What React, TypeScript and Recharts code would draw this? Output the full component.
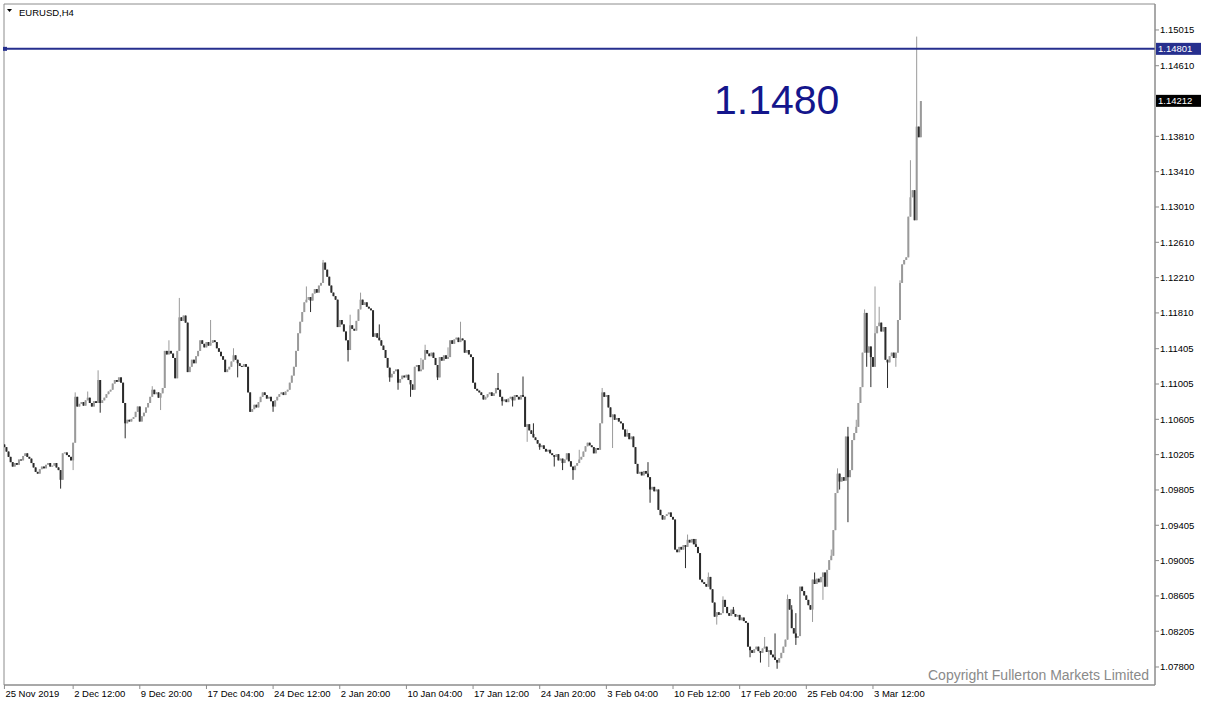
import React from 'react';
import { ComposedChart, Bar, XAxis, YAxis, ReferenceLine, ReferenceArea } from 'recharts';

// EURUSD H4 closes, one array per trading week (25 Nov 2019 .. 9 Mar 2020)
const wk0 = [1.1029, 1.1024, 1.1018, 1.1012, 1.1007, 1.1011, 1.1009, 1.1015, 1.1014, 1.1019, 1.1022, 1.1018, 1.1016, 1.1011, 1.1006, 1.1001, 1.0999, 1.1004, 1.1007, 1.1005, 1.1009, 1.1011, 1.1007, 1.1008, 1.1011, 1.1006, 1.1003, 1.0992, 1.1022, 1.1023];
const wk1 = [1.1020, 1.1018, 1.1014, 1.1034, 1.1086, 1.1075, 1.1078, 1.1080, 1.1076, 1.1082, 1.1085, 1.1079, 1.1075, 1.1081, 1.1079, 1.1105, 1.1079, 1.1082, 1.1085, 1.1089, 1.1092, 1.1094, 1.1101, 1.1105, 1.1103, 1.1108, 1.1102, 1.1079, 1.1056, 1.1060];
const wk2 = [1.1058, 1.1061, 1.1063, 1.1069, 1.1075, 1.1058, 1.1064, 1.1068, 1.1074, 1.1079, 1.1086, 1.1094, 1.1089, 1.1091, 1.1085, 1.1090, 1.1096, 1.1138, 1.1134, 1.1138, 1.1135, 1.1130, 1.1107, 1.1138, 1.1176, 1.1172, 1.1178, 1.1170, 1.1114, 1.1120];
const wk3 = [1.1128, 1.1124, 1.1132, 1.1138, 1.1150, 1.1146, 1.1142, 1.1148, 1.1144, 1.1147, 1.1150, 1.1148, 1.1141, 1.1137, 1.1132, 1.1128, 1.1114, 1.1117, 1.1120, 1.1126, 1.1133, 1.1128, 1.1124, 1.1121, 1.1120, 1.1123, 1.1120, 1.1091, 1.1069, 1.1072];
const wk4 = [1.1077, 1.1074, 1.1080, 1.1086, 1.1091, 1.1088, 1.1084, 1.1086, 1.1081, 1.1075, 1.1082, 1.1086, 1.1089, 1.1091, 1.1088, 1.1092, 1.1094, 1.1102, 1.1110, 1.1120, 1.1138, 1.1158, 1.1171, 1.1182];
const wk5 = [1.1193, 1.1196, 1.1199, 1.1195, 1.1203, 1.1208, 1.1204, 1.1212, 1.1215, 1.1238, 1.1230, 1.1222, 1.1212, 1.1204, 1.1200, 1.1196, 1.1165, 1.1173, 1.1168, 1.1160, 1.1150, 1.1139, 1.1167, 1.1163];
const wk6 = [1.1161, 1.1172, 1.1185, 1.1196, 1.1190, 1.1193, 1.1188, 1.1186, 1.1184, 1.1154, 1.1158, 1.1153, 1.1150, 1.1144, 1.1139, 1.1130, 1.1119, 1.1108, 1.1112, 1.1115, 1.1117, 1.1102, 1.1106, 1.1110, 1.1108, 1.1111, 1.1105, 1.1100, 1.1094, 1.1120];
const wk7 = [1.1122, 1.1115, 1.1117, 1.1128, 1.1139, 1.1135, 1.1132, 1.1136, 1.1130, 1.1122, 1.1108, 1.1131, 1.1127, 1.1133, 1.1129, 1.1131, 1.1150, 1.1146, 1.1151, 1.1153, 1.1148, 1.1152, 1.1150, 1.1136, 1.1139, 1.1134, 1.1131, 1.1102, 1.1095, 1.1093];
const wk8 = [1.1091, 1.1088, 1.1083, 1.1086, 1.1089, 1.1091, 1.1087, 1.1090, 1.1096, 1.1094, 1.1086, 1.1081, 1.1083, 1.1080, 1.1084, 1.1086, 1.1082, 1.1088, 1.1086, 1.1083, 1.1088, 1.1086, 1.1052, 1.1055, 1.1048, 1.1044, 1.1040, 1.1037, 1.1033, 1.1029];
const wk9 = [1.1031, 1.1027, 1.1024, 1.1026, 1.1022, 1.1020, 1.1018, 1.1021, 1.1014, 1.1016, 1.1011, 1.1015, 1.1022, 1.1013, 1.1007, 1.1003, 1.1008, 1.1011, 1.1015, 1.1018, 1.1024, 1.1030, 1.1034, 1.1031, 1.1029, 1.1022, 1.1028, 1.1026, 1.1056, 1.1091];
const wk10 = [1.1086, 1.1088, 1.1074, 1.1063, 1.1066, 1.1060, 1.1062, 1.1058, 1.1056, 1.1049, 1.1041, 1.1045, 1.1038, 1.1041, 1.1029, 1.1010, 1.0999, 1.1001, 1.0997, 1.1002, 1.0999, 1.0995, 1.0981, 1.0984, 1.0979, 1.0981, 1.0958, 1.0952, 1.0947, 1.0951];
const wk11 = [1.0953, 1.0955, 1.0950, 1.0947, 1.0913, 1.0910, 1.0916, 1.0913, 1.0918, 1.0916, 1.0924, 1.0921, 1.0925, 1.0919, 1.0916, 1.0909, 1.0879, 1.0876, 1.0874, 1.0871, 1.0882, 1.0868, 1.0853, 1.0837, 1.0842, 1.0839, 1.0841, 1.0856, 1.0848, 1.0841];
const wk12 = [1.0838, 1.0845, 1.0840, 1.0837, 1.0839, 1.0833, 1.0836, 1.0832, 1.0830, 1.0803, 1.0799, 1.0796, 1.0800, 1.0803, 1.0798, 1.0796, 1.0801, 1.0803, 1.0797, 1.0799, 1.0794, 1.0791, 1.0788, 1.0785, 1.0790, 1.0796, 1.0803, 1.0811, 1.0857, 1.0845];
const wk13 = [1.0824, 1.0818, 1.0813, 1.0815, 1.0871, 1.0866, 1.0861, 1.0856, 1.0850, 1.0845, 1.0879, 1.0874, 1.0880, 1.0876, 1.0882, 1.0887, 1.0871, 1.0890, 1.0901, 1.0906, 1.0935, 1.0977, 1.0999, 1.0990, 1.0995, 1.0991, 1.1041, 1.0995, 1.1003, 1.1037];
const wk14 = [1.1045, 1.1052, 1.1079, 1.1097, 1.1136, 1.1181, 1.1136, 1.1143, 1.1131, 1.1120, 1.1158, 1.1166, 1.1170, 1.1160, 1.1165, 1.1128, 1.1125, 1.1132, 1.1136, 1.1130, 1.1136, 1.1173, 1.1215, 1.1236, 1.1241, 1.1244, 1.1290, 1.1312, 1.1320, 1.1286];
const wk15 = [1.1392, 1.1380, 1.1421];

const firstOpen = 1.1032;

// visible wick extremes [bar index, price]
const wickHighs: [number, number][] = [
  [34, 1.1091], [40, 1.1092], [45, 1.1116], [71, 1.1098], [79, 1.1150], [84, 1.1198], [99, 1.1173],
  [110, 1.1141], [145, 1.1211], [153, 1.1241], [166, 1.1179], [171, 1.1204], [180, 1.1168], [200, 1.1130],
  [202, 1.1145], [213, 1.1142], [219, 1.1171], [237, 1.1113], [249, 1.1109], [254, 1.1056], [276, 1.1026],
  [287, 1.1096], [299, 1.1049], [309, 1.1012], [328, 1.0930], [332, 1.0925], [338, 1.0887], [345, 1.0860],
  [350, 1.0848], [365, 1.0814], [370, 1.0818], [376, 1.0862], [378, 1.0850], [380, 1.0841], [389, 1.0887],
  [397, 1.0913], [400, 1.1005], [405, 1.1052], [409, 1.1060], [413, 1.1185], [418, 1.1211], [420, 1.1188],
  [430, 1.1218], [435, 1.1354], [438, 1.1494],
];
const wickLows: [number, number][] = [
  [27, 1.0982], [33, 1.1003], [46, 1.1068], [58, 1.1039], [75, 1.1071], [112, 1.1108], [129, 1.1069],
  [147, 1.1182], [165, 1.1126], [185, 1.1103], [189, 1.1094], [195, 1.1086], [208, 1.1105], [232, 1.1085],
  [239, 1.1076], [244, 1.1075], [251, 1.1035], [257, 1.1026], [264, 1.1007], [268, 1.1003], [273, 1.0992],
  [292, 1.1028], [310, 1.0966], [327, 1.0892], [342, 1.0828], [358, 1.0791], [363, 1.0785], [367, 1.0780],
  [371, 1.0778], [380, 1.0805], [388, 1.0831], [393, 1.0856], [401, 1.0981], [405, 1.0944], [414, 1.1120],
  [416, 1.1097], [424, 1.1096], [428, 1.1120],
];

const xTickIdx = [0, 33, 65, 97, 129, 161, 193, 225, 257, 289, 321, 353, 385, 417];
const xTickText = ['25 Nov 2019', '2 Dec 12:00', '9 Dec 20:00', '17 Dec 04:00', '24 Dec 12:00', '2 Jan 20:00', '10 Jan 04:00', '17 Jan 12:00', '24 Jan 20:00', '3 Feb 04:00', '10 Feb 12:00', '17 Feb 20:00', '25 Feb 04:00', '3 Mar 12:00'];
const yTicks = [1.078, 1.08205, 1.08605, 1.09005, 1.09405, 1.09805, 1.10205, 1.10605, 1.11005, 1.11405, 1.1181, 1.1221, 1.1261, 1.1301, 1.1341, 1.1381, 1.1461, 1.15015];

const levelPrice = 1.14801;
const bidPrice = 1.14212;

const Y_MIN = 1.07596;
const Y_MAX = 1.15309;
const X_MIN = -0.2;
const X_MAX = 552.4;

const FONT = '"Liberation Sans", Arial, sans-serif';

const closes = [...wk0, ...wk1, ...wk2, ...wk3, ...wk4, ...wk5, ...wk6, ...wk7, ...wk8, ...wk9, ...wk10, ...wk11, ...wk12, ...wk13, ...wk14, ...wk15];
const hiMap = new Map(wickHighs);
const loMap = new Map(wickLows);

const data = closes.map((close, i) => {
  const open = i === 0 ? firstOpen : closes[i - 1];
  const high = Math.max(hiMap.get(i) ?? 0, open, close);
  const low = Math.min(loMap.get(i) ?? 9, open, close);
  return { i, open, close, high, low, range: [low, high] };
});

const Candle = (props: any) => {
  const { x, y, width, height, payload } = props;
  if (x == null || y == null) return null;
  const top = Math.min(y, y + height);
  const h = Math.abs(height);
  const cx = x + width / 2;
  const bull = payload.close >= payload.open;
  const col = bull ? '#9a9a9a' : '#2b2b2b';
  const span = payload.high - payload.low;
  const k = span > 0 ? h / span : 0;
  const bodyTop = top + (payload.high - Math.max(payload.open, payload.close)) * k;
  const bodyH = Math.max(Math.abs(payload.close - payload.open) * k, 1);
  return (
    <g>
      <line x1={cx} x2={cx} y1={top} y2={top + Math.max(h, 1)} stroke={col} strokeWidth={1} />
      <rect x={cx - 1} y={bodyTop} width={2} height={bodyH} fill={col} />
    </g>
  );
};

const DateTick = ({ x, y, payload }: any) => (
  <text x={x + 1} y={y + 6} fontSize={9.5} fontFamily={FONT} fill="#000" textAnchor="start">
    {xTickText[xTickIdx.indexOf(payload.value)]}
  </text>
);

const PriceTag = ({ viewBox, text, bg }: any) => {
  if (!viewBox) return null;
  const x = viewBox.x + viewBox.width + 1;
  const y = viewBox.y;
  return (
    <g>
      <rect x={x} y={y - 6} width={45} height={12} fill={bg} />
      <text x={x + 2} y={y + 3.5} fill="#fff" fontSize={9.5} fontFamily={FONT}>{text}</text>
    </g>
  );
};

const LineStart = ({ viewBox }: any) => {
  if (!viewBox) return null;
  return <rect x={viewBox.x - 1} y={viewBox.y - 2} width={4} height={4} fill="#262f8e" />;
};

export default function App() {
  return (
    <div style={{ position: 'absolute', left: 0, top: 0, width: 1209, height: 710, background: '#fff' }}>
      <ComposedChart width={1209} height={710} data={data} margin={{ top: 4, right: 0, bottom: 0, left: 4 }}>
        <XAxis
          dataKey="i"
          type="number"
          domain={[X_MIN, X_MAX]}
          allowDataOverflow
          ticks={xTickIdx}
          interval={0}
          height={25}
          tickSize={4}
          tick={<DateTick />}
          stroke="#8c8c8c"
        />
        <YAxis
          orientation="right"
          domain={[Y_MIN, Y_MAX]}
          allowDataOverflow
          ticks={yTicks}
          interval={0}
          width={54}
          tickSize={4}
          tickMargin={1}
          tickFormatter={(v: number) => v.toFixed(5)}
          tick={{ fontSize: 9.5, fill: '#000', fontFamily: FONT }}
          stroke="#8c8c8c"
        />
        <ReferenceArea x1={X_MIN} x2={X_MAX} y1={Y_MIN} y2={Y_MAX} fill="none" stroke="#8c8c8c" strokeWidth={1} />
        <Bar dataKey="range" shape={<Candle />} barSize={2} isAnimationActive={false} />
        <ReferenceLine
          y={levelPrice}
          stroke="#262f8e"
          strokeWidth={2}
          label={(p: any) => (
            <g>
              <LineStart viewBox={p.viewBox} />
              <PriceTag viewBox={p.viewBox} text={levelPrice.toFixed(5)} bg="#262f8e" />
            </g>
          )}
        />
        <ReferenceLine
          y={bidPrice}
          stroke="none"
          strokeOpacity={0}
          label={<PriceTag text={bidPrice.toFixed(5)} bg="#000" />}
        />
      </ComposedChart>
      <svg width={1209} height={710} style={{ position: 'absolute', left: 0, top: 0, pointerEvents: 'none' }}>
        <polygon points="7,9 12,9 9.5,12" fill="#000" />
        <text x={19} y={16} fontSize={9.5} fontFamily={FONT} fill="#000">EURUSD,H4</text>
        <text x={714} y={114} fontSize={41} fontFamily={FONT} fill="#14168c">1.1480</text>
        <text x={928} y={680} fontSize={14} fontFamily={FONT} fill="#8a8a8a">Copyright Fullerton Markets Limited</text>
      </svg>
    </div>
  );
}
